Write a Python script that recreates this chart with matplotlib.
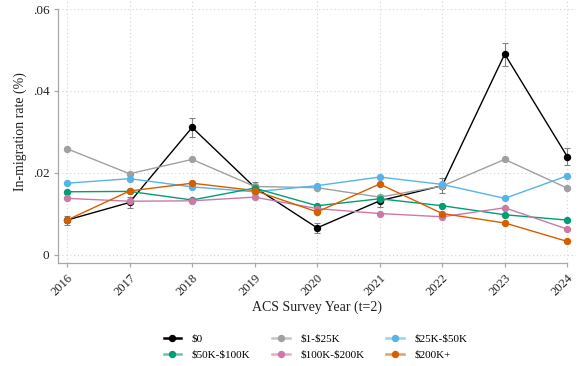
import matplotlib
matplotlib.use("Agg")
import matplotlib.pyplot as plt
from matplotlib.lines import Line2D

plt.rcParams["font.family"] = ["Liberation Serif", "DejaVu Serif"]

years = [2016, 2017, 2018, 2019, 2020, 2021, 2022, 2023, 2024]

groups = ["$0", "$1-$25K", "$25K-$50K", "$50K-$100K", "$100K-$200K", "$200K+"]
colors = ["#000000", "#a0a0a0", "#56b4e9", "#009e73", "#cc79a7", "#d55e00"]

rate_0 = [0.0085, 0.0128, 0.0311, 0.0165, 0.0066, 0.0132, 0.0169, 0.0490, 0.0240]
rate_1_25k = [0.0259, 0.0198, 0.0233, 0.0167, 0.0164, 0.0141, 0.0168, 0.0233, 0.0163]
rate_25_50k = [0.0175, 0.0186, 0.0166, 0.0154, 0.0169, 0.0190, 0.0172, 0.0138, 0.0193]
rate_50_100k = [0.0154, 0.0155, 0.0134, 0.0163, 0.0120, 0.0137, 0.0120, 0.0098, 0.0085]
rate_100_200k = [0.0138, 0.0131, 0.0132, 0.0141, 0.0113, 0.0101, 0.0093, 0.0115, 0.0063]
rate_200k = [0.0085, 0.0156, 0.0175, 0.0157, 0.0105, 0.0173, 0.0101, 0.0078, 0.0033]

# 95% CI half-widths for the $0 group
ci_0 = [0.0011, 0.0014, 0.0023, 0.0012, 0.0013, 0.0014, 0.0019, 0.0028, 0.0020]

series = [rate_0, rate_1_25k, rate_25_50k, rate_50_100k, rate_100_200k, rate_200k]

W, H = 579, 366
fig = plt.figure(figsize=(W / 100, H / 100), dpi=100)
ax = fig.add_axes([58.3 / W, 1 - 262.7 / H, (576 - 58.3) / W, 262.7 / H])

ax.errorbar(years, rate_0, yerr=ci_0, fmt="none", ecolor="#808080",
            elinewidth=0.8, capsize=2, capthick=0.8, zorder=2)

for vals, c in zip(series, colors):
    ax.plot(years, vals, color=c, lw=1.0, marker="o", ms=4.3, zorder=3)

ax.set_xlim(2015.86, 2024.14)
ax.set_ylim(-0.0019, 0.0622)
ax.set_xticks(years)
ax.set_xticklabels([str(y) for y in years], rotation=45, ha="right",
                   rotation_mode="anchor", fontsize=9)
ax.set_yticks([0, 0.02, 0.04, 0.06])
ax.set_yticklabels(["0", ".02", ".04", ".06"], fontsize=9.5)

ax.grid(True, color="#d4d4d4", lw=0.8, linestyle=(0, (1, 2.5)))
ax.set_axisbelow(True)

for s in ["top", "right"]:
    ax.spines[s].set_visible(False)
for s in ["left", "bottom"]:
    ax.spines[s].set_color("#a8a8a8")
    ax.spines[s].set_linewidth(0.9)
ax.spines["left"].set_bounds(-0.0019, 0.06)
ax.spines["bottom"].set_bounds(2015.86, 2024)
ax.tick_params(colors="#a8a8a8", length=3, width=0.9, labelcolor="#222222", pad=3.5)

ax.set_xlabel("ACS Survey Year (t=2)", fontsize=10, color="#222222")
ax.set_ylabel("In-migration rate (%)", fontsize=10, color="#222222")
ax.xaxis.set_label_coords(0.5, -0.145)
ax.yaxis.set_label_coords(-0.06, 0.5)

# legend keys: pale line with a solid marker on top
handles = []
for i, c in enumerate(colors):
    line_alpha = 1.0 if i == 0 else 0.6
    handles.append((Line2D([], [], color=c, lw=1.8, alpha=line_alpha),
                    Line2D([], [], color=c, lw=0, marker="o", ms=4.3)))
labels = [g.replace("$", r"\$") for g in groups]
# legend fills column by column, so reorder to read across rows
order = [0, 3, 1, 4, 2, 5]
fig.legend([handles[i] for i in order], [labels[i] for i in order],
           loc="center", ncol=3, frameon=False, fontsize=8,
           bbox_to_anchor=(315.5 / W, 1 - 346.6 / H), handlelength=1.55,
           handletextpad=0.95, columnspacing=2.0, labelspacing=0.55)

fig.savefig("out.png", dpi=100)
